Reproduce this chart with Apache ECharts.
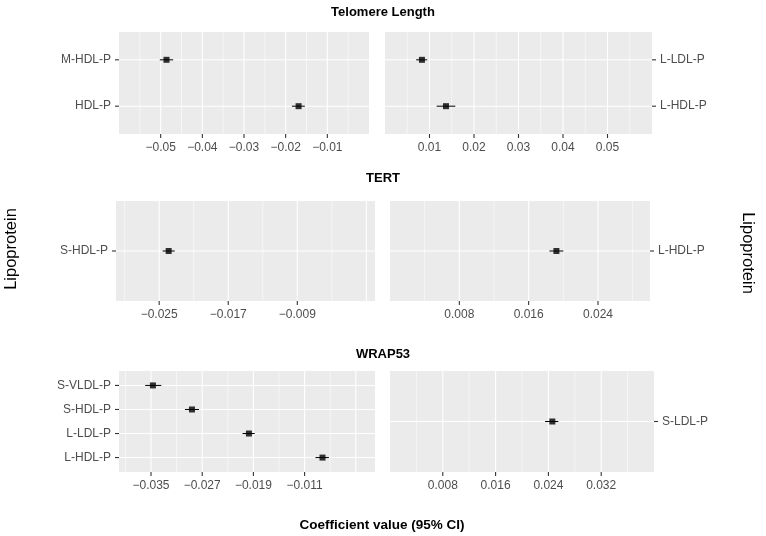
<!DOCTYPE html>
<html>
<head>
<meta charset="utf-8">
<script src="https://cdn.jsdelivr.net/npm/echarts@6/dist/echarts.min.js"></script>
<style>html,body{margin:0;padding:0;background:#fff}#c{width:766px;height:536px}</style>
</head>
<body>
<div id="c"></div>
<script>
// ---- Data ----
const tlLeftCats = ['M-HDL-P', 'HDL-P'];
const tlLeftEst = [-0.0486, -0.0169];
const tlLeftLo = [-0.0502, -0.0185];
const tlLeftHi = [-0.0470, -0.0154];
const tlLeftTicks = ['\u22120.05', '\u22120.04', '\u22120.03', '\u22120.02', '\u22120.01'];
const tlLeftMajor = [-0.05, -0.04, -0.03, -0.02, -0.01];
const tlLeftMinor = [-0.055, -0.045, -0.035, -0.025, -0.015, -0.005];

const tlRightCats = ['L-LDL-P', 'L-HDL-P'];
const tlRightEst = [0.0083, 0.0137];
const tlRightLo = [0.0070, 0.0116];
const tlRightHi = [0.0095, 0.0158];
const tlRightTicks = ['0.01', '0.02', '0.03', '0.04', '0.05'];
const tlRightMajor = [0.01, 0.02, 0.03, 0.04, 0.05];
const tlRightMinor = [0.005, 0.015, 0.025, 0.035, 0.045, 0.055];

const tertLeftCats = ['S-HDL-P'];
const tertLeftEst = [-0.0239];
const tertLeftLo = [-0.0246];
const tertLeftHi = [-0.0232];
const tertLeftTicks = ['\u22120.025', '\u22120.017', '\u22120.009'];
const tertLeftMajor = [-0.025, -0.017, -0.009, -0.001];
const tertLeftMinor = [-0.029, -0.021, -0.013, -0.005];

const tertRightCats = ['L-HDL-P'];
const tertRightEst = [0.0192];
const tertRightLo = [0.0184];
const tertRightHi = [0.0200];
const tertRightTicks = ['0.008', '0.016', '0.024'];
const tertRightMajor = [0.008, 0.016, 0.024];
const tertRightMinor = [0.004, 0.012, 0.020, 0.028];

const wrapLeftCats = ['S-VLDL-P', 'S-HDL-P', 'L-LDL-P', 'L-HDL-P'];
const wrapLeftEst = [-0.0347, -0.0286, -0.0197, -0.0082];
const wrapLeftLo = [-0.0359, -0.0297, -0.0207, -0.0093];
const wrapLeftHi = [-0.0334, -0.0275, -0.0188, -0.0072];
const wrapLeftTicks = ['\u22120.035', '\u22120.027', '\u22120.019', '\u22120.011'];
const wrapLeftMajor = [-0.035, -0.027, -0.019, -0.011, -0.003];
const wrapLeftMinor = [-0.039, -0.031, -0.023, -0.015, -0.007];

const wrapRightCats = ['S-LDL-P'];
const wrapRightEst = [0.0246];
const wrapRightLo = [0.0235];
const wrapRightHi = [0.0255];
const wrapRightTicks = ['0.008', '0.016', '0.024', '0.032'];
const wrapRightMajor = [0.008, 0.016, 0.024, 0.032];
const wrapRightMinor = [0.004, 0.012, 0.020, 0.028, 0.036];

const panelTitles = ['Telomere Length', 'TERT', 'WRAP53'];
const xTitle = 'Coefficient value (95% CI)';
const yTitle = 'Lipoprotein';

// ---- Build ----
const FONT = '"Liberation Sans", Arial, Helvetica, sans-serif';
const panels = [
  {cats: tlLeftCats, est: tlLeftEst, lo: tlLeftLo, hi: tlLeftHi, ticks: tlLeftTicks, major: tlLeftMajor, minor: tlLeftMinor,
   min: -0.06, max: 0, side: 'left', grid: {left: 119, top: 32, width: 250, height: 102}},
  {cats: tlRightCats, est: tlRightEst, lo: tlRightLo, hi: tlRightHi, ticks: tlRightTicks, major: tlRightMajor, minor: tlRightMinor,
   min: 0, max: 0.06, side: 'right', grid: {left: 385, top: 32, width: 267, height: 102}},
  {cats: tertLeftCats, est: tertLeftEst, lo: tertLeftLo, hi: tertLeftHi, ticks: tertLeftTicks, major: tertLeftMajor, minor: tertLeftMinor,
   min: -0.03, max: 0, side: 'left', grid: {left: 116, top: 201, width: 259, height: 100}},
  {cats: tertRightCats, est: tertRightEst, lo: tertRightLo, hi: tertRightHi, ticks: tertRightTicks, major: tertRightMajor, minor: tertRightMinor,
   min: 0, max: 0.03, side: 'right', grid: {left: 390, top: 201, width: 260, height: 100}},
  {cats: wrapLeftCats, est: wrapLeftEst, lo: wrapLeftLo, hi: wrapLeftHi, ticks: wrapLeftTicks, major: wrapLeftMajor, minor: wrapLeftMinor,
   min: -0.04, max: 0, side: 'left', grid: {left: 119, top: 371, width: 256, height: 101}},
  {cats: wrapRightCats, est: wrapRightEst, lo: wrapRightLo, hi: wrapRightHi, ticks: wrapRightTicks, major: wrapRightMajor, minor: wrapRightMinor,
   min: 0, max: 0.04, side: 'right', grid: {left: 390, top: 371, width: 264, height: 101}}
];

const toNum = s => parseFloat(s.replace('\u2212', '-'));
const grids = [], xAxes = [], yAxes = [], series = [];
const TICK = 4;

panels.forEach((p, i) => {
  const n = p.cats.length;
  const yMin = 0.4, yMax = n + 0.6;
  grids.push(Object.assign({show: true, backgroundColor: '#EBEBEB', borderWidth: 0}, p.grid));
  const tickVals = p.ticks.map(toNum);
  xAxes.push({
    type: 'value', gridIndex: i, min: p.min, max: p.max,
    axisLine: {show: false, onZero: false},
    splitLine: {show: false},
    axisTick: {show: false},
    axisLabel: {
      customValues: tickVals, margin: 8, color: '#4D4D4D', fontSize: 12, fontFamily: FONT,
      formatter: v => {
        let best = 0;
        tickVals.forEach((t, k) => { if (Math.abs(t - v) < Math.abs(tickVals[best] - v)) best = k; });
        return p.ticks[best];
      }
    }
  });
  const yVals = p.cats.map((c, k) => k + 1);
  yAxes.push({
    type: 'value', gridIndex: i, min: yMin, max: yMax, inverse: true, position: p.side,
    axisLine: {show: false, onZero: false},
    splitLine: {show: false},
    axisTick: {show: false},
    axisLabel: {
      customValues: yVals, margin: 8, color: '#4D4D4D', fontSize: 12, fontFamily: FONT,
      formatter: v => p.cats[Math.round(v) - 1] || ''
    }
  });
  // grid lines (minor vertical, major vertical, horizontal at categories)
  const gl = [];
  p.minor.forEach(v => gl.push([v, 0, 0]));
  p.major.forEach(v => gl.push([v, 0, 1]));
  yVals.forEach(y => gl.push([p.min, y, 2]));
  series.push({
    type: 'custom', xAxisIndex: i, yAxisIndex: i, z: 1, silent: true,
    data: gl,
    encode: {x: 0, y: 1},
    renderItem: (params, api) => {
      const kind = api.value(2);
      let a, b;
      if (kind === 2) {
        a = api.coord([p.min, api.value(1)]);
        b = api.coord([p.max, api.value(1)]);
      } else {
        a = api.coord([api.value(0), yMin]);
        b = api.coord([api.value(0), yMax]);
      }
      return {type: 'line', shape: {x1: a[0], y1: a[1], x2: b[0], y2: b[1]},
        style: {stroke: '#FFFFFF', lineWidth: kind === 0 ? 0.55 : 1.1}};
    }
  });
  // axis ticks (x ticks below panel, y ticks on the label side)
  const tk = [];
  tickVals.forEach(v => tk.push([v, yMax, 0]));
  yVals.forEach(y => tk.push([p.side === 'left' ? p.min : p.max, y, 1]));
  series.push({
    type: 'custom', xAxisIndex: i, yAxisIndex: i, z: 2, silent: true, clip: false,
    data: tk,
    encode: {x: 0, y: 1},
    renderItem: (params, api) => {
      const a = api.coord([api.value(0), api.value(1)]);
      let shape;
      if (api.value(2) === 0) {
        shape = {x1: a[0], y1: a[1], x2: a[0], y2: a[1] + TICK};
      } else {
        const d = p.side === 'left' ? -TICK : TICK;
        shape = {x1: a[0], y1: a[1], x2: a[0] + d, y2: a[1]};
      }
      return {type: 'line', shape: shape, style: {stroke: '#333333', lineWidth: 1.1}};
    }
  });
  // error bars
  series.push({
    type: 'custom', xAxisIndex: i, yAxisIndex: i, z: 3, silent: true,
    data: p.cats.map((c, k) => [p.lo[k], k + 1, p.hi[k]]),
    encode: {x: [0, 2], y: 1},
    renderItem: (params, api) => {
      const a = api.coord([api.value(0), api.value(1)]);
      const b = api.coord([api.value(2), api.value(1)]);
      return {type: 'line', shape: {x1: a[0], y1: a[1], x2: b[0], y2: b[1]},
        style: {stroke: '#000000', lineWidth: 1}};
    }
  });
  // points
  series.push({
    type: 'scatter', xAxisIndex: i, yAxisIndex: i, z: 4, silent: true,
    symbol: 'rect', symbolSize: 6, itemStyle: {color: '#000000'},
    data: p.cats.map((c, k) => [p.est[k], k + 1])
  });
});

const titleYs = [12, 178, 354];
const graphics = panelTitles.map((t, k) => ({
  type: 'text', x: 383, y: titleYs[k],
  style: {text: t, align: 'center', verticalAlign: 'middle', font: 'bold 13px ' + FONT, fill: '#000'}
}));
graphics.push({type: 'text', x: 382, y: 525,
  style: {text: xTitle, align: 'center', verticalAlign: 'middle', font: 'bold 13.5px ' + FONT, fill: '#000'}});
graphics.push({type: 'text', x: 11, y: 249, rotation: Math.PI / 2,
  style: {text: yTitle, align: 'center', verticalAlign: 'middle', font: '16.5px ' + FONT, fill: '#000'}});
graphics.push({type: 'text', x: 748, y: 253, rotation: -Math.PI / 2,
  style: {text: yTitle, align: 'center', verticalAlign: 'middle', font: '16.5px ' + FONT, fill: '#000'}});

const chart = echarts.init(document.getElementById('c'), null, {renderer: 'canvas'});
chart.setOption({
  animation: false,
  backgroundColor: '#FFFFFF',
  grid: grids,
  xAxis: xAxes,
  yAxis: yAxes,
  series: series,
  graphic: graphics
});
</script>
</body>
</html>
